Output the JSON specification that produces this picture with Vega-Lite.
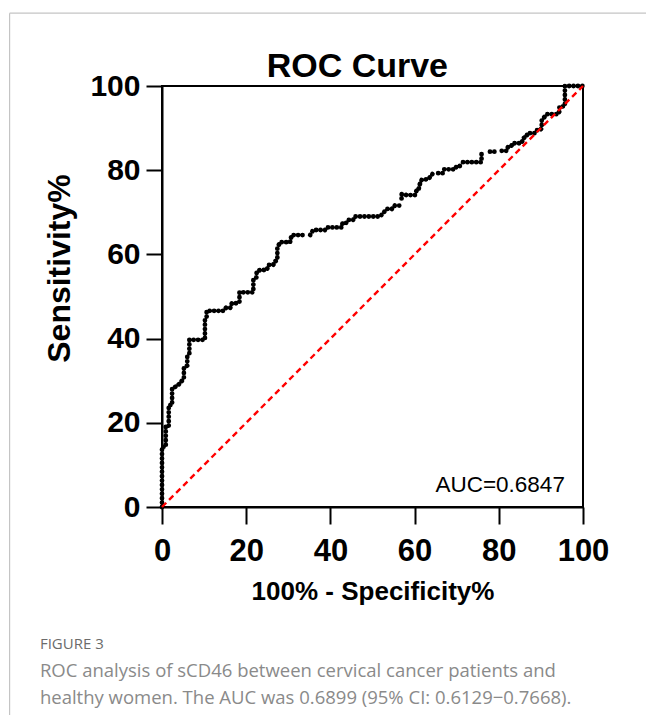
{
  "$schema": "https://vega.github.io/schema/vega-lite/v6.json",
  "width": 421,
  "height": 421,
  "autosize": {"type": "none"},
  "padding": {"left": 162, "top": 86, "right": 63, "bottom": 208},
  "background": "white",
  "config": {
    "view": {"stroke": "black", "strokeWidth": 2},
    "font": "Liberation Sans"
  },
  "data": {"values": [{}]},
  "datasets": {
    "roc": [
      {"fpr": 0, "sens": 0, "g": 1},
      {"fpr": 0, "sens": 14.3, "g": 1},
      {"fpr": 0.9, "sens": 14.3, "g": 1},
      {"fpr": 0.9, "sens": 19, "g": 1},
      {"fpr": 1.6, "sens": 19, "g": 1},
      {"fpr": 1.6, "sens": 24.2, "g": 1},
      {"fpr": 2.4, "sens": 24.2, "g": 1},
      {"fpr": 2.4, "sens": 28.2, "g": 1},
      {"fpr": 3.3, "sens": 28.6, "g": 1},
      {"fpr": 4.3, "sens": 29.4, "g": 1},
      {"fpr": 5.2, "sens": 30.6, "g": 1},
      {"fpr": 5.2, "sens": 33, "g": 1},
      {"fpr": 6, "sens": 33.6, "g": 1},
      {"fpr": 6, "sens": 35.7, "g": 1},
      {"fpr": 6.5, "sens": 36.4, "g": 1},
      {"fpr": 6.5, "sens": 39.7, "g": 1},
      {"fpr": 10.2, "sens": 39.7, "g": 1},
      {"fpr": 10.2, "sens": 44.4, "g": 1},
      {"fpr": 10.6, "sens": 44.8, "g": 1},
      {"fpr": 10.6, "sens": 46.6, "g": 1},
      {"fpr": 14.6, "sens": 46.6, "g": 1},
      {"fpr": 15.2, "sens": 47.3, "g": 1},
      {"fpr": 16.2, "sens": 47.3, "g": 1},
      {"fpr": 16.6, "sens": 48.4, "g": 1},
      {"fpr": 18.1, "sens": 48.4, "g": 1},
      {"fpr": 18.4, "sens": 48.7, "g": 1},
      {"fpr": 18.4, "sens": 51, "g": 1},
      {"fpr": 21.7, "sens": 51, "g": 1},
      {"fpr": 21.7, "sens": 53.9, "g": 1},
      {"fpr": 22.4, "sens": 54.4, "g": 1},
      {"fpr": 22.5, "sens": 55.9, "g": 1},
      {"fpr": 23.3, "sens": 56.3, "g": 1},
      {"fpr": 24.9, "sens": 56.3, "g": 1},
      {"fpr": 25.3, "sens": 57.5, "g": 1},
      {"fpr": 26.4, "sens": 57.5, "g": 1},
      {"fpr": 26.8, "sens": 58.3, "g": 1},
      {"fpr": 27.4, "sens": 58.7, "g": 1},
      {"fpr": 27.4, "sens": 61.4, "g": 1},
      {"fpr": 28, "sens": 62.9, "g": 1},
      {"fpr": 30.4, "sens": 62.9, "g": 1},
      {"fpr": 30.8, "sens": 64.6, "g": 1},
      {"fpr": 33.6, "sens": 64.6, "g": 1},
      {"fpr": 35.2, "sens": 64.6, "g": 2},
      {"fpr": 35.9, "sens": 65.8, "g": 2},
      {"fpr": 38.7, "sens": 65.8, "g": 2},
      {"fpr": 39.1, "sens": 66.4, "g": 2},
      {"fpr": 40.6, "sens": 66.4, "g": 2},
      {"fpr": 42.7, "sens": 66.4, "g": 2},
      {"fpr": 42.9, "sens": 67.5, "g": 2},
      {"fpr": 43.9, "sens": 67.5, "g": 2},
      {"fpr": 44.3, "sens": 68.2, "g": 2},
      {"fpr": 45.4, "sens": 68.2, "g": 2},
      {"fpr": 45.8, "sens": 69, "g": 2},
      {"fpr": 51.8, "sens": 69, "g": 2},
      {"fpr": 52.6, "sens": 69.9, "g": 2},
      {"fpr": 53.4, "sens": 70.8, "g": 2},
      {"fpr": 54.6, "sens": 70.8, "g": 2},
      {"fpr": 55.3, "sens": 71.6, "g": 2},
      {"fpr": 56.9, "sens": 71.6, "g": 2},
      {"fpr": 56.9, "sens": 73.3, "g": 3},
      {"fpr": 56.9, "sens": 74.3, "g": 3},
      {"fpr": 58.1, "sens": 74.1, "g": 3},
      {"fpr": 60.1, "sens": 74.1, "g": 3},
      {"fpr": 60.5, "sens": 75.3, "g": 3},
      {"fpr": 60.9, "sens": 75.3, "g": 3},
      {"fpr": 61.3, "sens": 76.9, "g": 3},
      {"fpr": 61.7, "sens": 77.7, "g": 3},
      {"fpr": 63.3, "sens": 77.9, "g": 3},
      {"fpr": 64.4, "sens": 79.3, "g": 3},
      {"fpr": 65.6, "sens": 79.3, "g": 4},
      {"fpr": 66.7, "sens": 79.3, "g": 4},
      {"fpr": 67, "sens": 80.2, "g": 4},
      {"fpr": 69.6, "sens": 80.2, "g": 4},
      {"fpr": 70, "sens": 81, "g": 4},
      {"fpr": 70.8, "sens": 81, "g": 4},
      {"fpr": 71.5, "sens": 81.9, "g": 5},
      {"fpr": 75.9, "sens": 81.9, "g": 5},
      {"fpr": 75.9, "sens": 84.6, "g": 5},
      {"fpr": 77.9, "sens": 84.4, "g": 6},
      {"fpr": 79.1, "sens": 84.4, "g": 6},
      {"fpr": 80.7, "sens": 84.6, "g": 7},
      {"fpr": 81.9, "sens": 84.6, "g": 7},
      {"fpr": 82.2, "sens": 85.6, "g": 7},
      {"fpr": 83, "sens": 85.8, "g": 7},
      {"fpr": 83.3, "sens": 86.4, "g": 7},
      {"fpr": 85.4, "sens": 86.4, "g": 7},
      {"fpr": 85.8, "sens": 87.6, "g": 7},
      {"fpr": 86.6, "sens": 88, "g": 7},
      {"fpr": 86.8, "sens": 88.8, "g": 7},
      {"fpr": 88.6, "sens": 88.8, "g": 7},
      {"fpr": 89, "sens": 89.5, "g": 7},
      {"fpr": 89.8, "sens": 89.5, "g": 7},
      {"fpr": 90.2, "sens": 90, "g": 7},
      {"fpr": 90.2, "sens": 91.9, "g": 7},
      {"fpr": 91.4, "sens": 93.3, "g": 7},
      {"fpr": 94.1, "sens": 93.3, "g": 7},
      {"fpr": 94.4, "sens": 94, "g": 7},
      {"fpr": 94.4, "sens": 95.1, "g": 7},
      {"fpr": 95.7, "sens": 95.2, "g": 7},
      {"fpr": 95.7, "sens": 100, "g": 7},
      {"fpr": 100, "sens": 100, "g": 7}
    ]
  },
  "layer": [
    {
      "data": {"name": "roc"},
      "mark": {"type": "line", "color": "black", "strokeWidth": 4.8, "strokeCap": "round", "strokeJoin": "round", "strokeDash": [0.01, 4.4], "clip": false},
      "encoding": {
        "x": {
          "field": "fpr", "type": "quantitative",
          "scale": {"domain": [0, 100], "nice": false, "zero": false},
          "axis": {
            "title": "100% - Specificity%",
            "values": [0, 20, 40, 60, 80, 100],
            "grid": false,
            "domainColor": "black", "domainWidth": 2,
            "tickColor": "black", "tickWidth": 2, "tickSize": 17,
            "labelFont": "Liberation Sans", "labelFontSize": 31, "labelFontWeight": "bold", "labelColor": "black",
            "labelPadding": 12, "labelFlush": false, "labelOverlap": false,
            "titleFont": "Liberation Sans", "titleFontSize": 26, "titleFontWeight": "bold", "titleColor": "black",
            "titlePadding": 12
          }
        },
        "y": {
          "field": "sens", "type": "quantitative",
          "scale": {"domain": [0, 100], "nice": false, "zero": false},
          "axis": {
            "title": "Sensitivity%",
            "values": [0, 20, 40, 60, 80, 100],
            "grid": false,
            "domainColor": "black", "domainWidth": 2,
            "tickColor": "black", "tickWidth": 2, "tickSize": 16,
            "labelFont": "Liberation Sans", "labelFontSize": 30, "labelFontWeight": "bold", "labelColor": "black",
            "labelPadding": 6, "labelFlush": false, "labelOverlap": false,
            "titleFont": "Liberation Sans", "titleFontSize": 32, "titleFontWeight": "bold", "titleColor": "black",
            "titlePadding": 13,
            "titleY": 182
          }
        },
        "detail": {"field": "g", "type": "nominal"},
        "order": {"value": null}
      }
    },
    {
      "mark": {"type": "rule", "color": "#ff0000", "strokeWidth": 2.4, "strokeDash": [6, 4]},
      "encoding": {
        "x": {"datum": 0, "type": "quantitative"},
        "y": {"datum": 0, "type": "quantitative"},
        "x2": {"datum": 100},
        "y2": {"datum": 100}
      }
    },
    {
      "mark": {"type": "text", "font": "Liberation Sans", "fontSize": 22.5, "color": "black", "align": "right", "baseline": "alphabetic"},
      "encoding": {
        "x": {"datum": 95.7, "type": "quantitative"},
        "y": {"datum": 3.6, "type": "quantitative"},
        "text": {"value": "AUC=0.6847"}
      }
    },
    {
      "mark": {"type": "text", "font": "Liberation Sans", "fontSize": 34, "fontWeight": "bold", "color": "black", "align": "center", "baseline": "alphabetic", "clip": false},
      "encoding": {
        "x": {"datum": 46.4, "type": "quantitative"},
        "y": {"datum": 102.2, "type": "quantitative"},
        "text": {"value": "ROC Curve"}
      }
    },
    {
      "mark": {"type": "rule", "color": "#c4c4c4", "strokeWidth": 1.2, "clip": false},
      "encoding": {
        "x": {"datum": -36.2, "type": "quantitative"},
        "y": {"datum": 117.3, "type": "quantitative"},
        "y2": {"datum": -60}
      }
    },
    {
      "mark": {"type": "rule", "color": "#c4c4c4", "strokeWidth": 1.2, "clip": false},
      "encoding": {
        "x": {"datum": -36.2, "type": "quantitative"},
        "x2": {"datum": 125},
        "y": {"datum": 117.3, "type": "quantitative"}
      }
    },
    {
      "mark": {"type": "text", "font": "Open Sans", "fontSize": 15, "color": "#6b6b6b", "align": "left", "baseline": "alphabetic", "clip": false},
      "encoding": {
        "x": {"datum": -29, "type": "quantitative"},
        "y": {"datum": -33.7, "type": "quantitative"},
        "text": {"value": "FIGURE 3"}
      }
    },
    {
      "mark": {"type": "text", "font": "Open Sans", "fontSize": 18.5, "color": "#8a8a8a", "align": "left", "baseline": "alphabetic", "lineBreak": "\n", "lineHeight": 27, "clip": false},
      "encoding": {
        "x": {"datum": -29, "type": "quantitative"},
        "y": {"datum": -40.4, "type": "quantitative"},
        "text": {"value": "ROC analysis of sCD46 between cervical cancer patients and\nhealthy women. The AUC was 0.6899 (95% CI: 0.6129\u22120.7668)."}
      }
    }
  ]
}
